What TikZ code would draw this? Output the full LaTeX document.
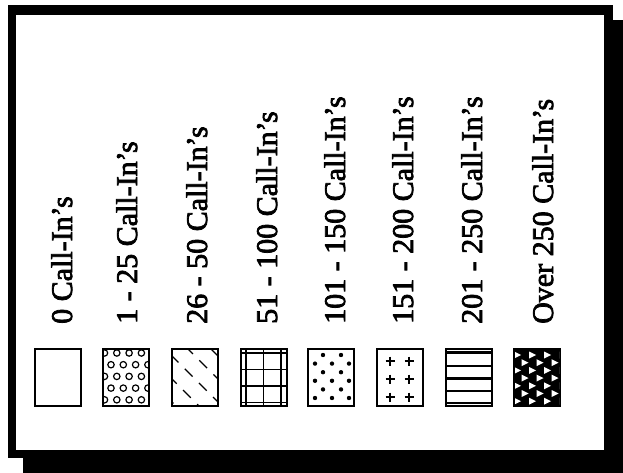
\documentclass[tikz,border=0pt]{standalone}
\usepackage{fontspec}
\setmainfont{Liberation Serif}
\newfontfamily\heavyserif{Liberation Serif}[Ligatures=TeX, FakeBold=2.5]
\usetikzlibrary{positioning}

\begin{document}
\begin{tikzpicture}[
    x=1pt, y=-1pt,
    swatch/.style={draw, line width=1.7pt, minimum width=46pt, minimum height=57pt,
                   inner sep=0pt, outer sep=0pt},
    lbl/.style={rotate=90, anchor=base west, inner sep=0pt,
                font=\heavyserif\fontsize{30}{36}\selectfont},
    pat/.style={line width=1.2pt},
  ]
    \useasboundingbox (0,0) rectangle (623,473);
    % frame with its shadow
    \fill (23,20) rectangle (623,473);
    \fill (8,5) rectangle (613,458);
    \fill[white] (16,15) rectangle (604,450);
    % swatches and labels
    \foreach \k/\xs/\xb/\txt in {1/35/72/0 Call-In's, 2/103/137/1 - 25 Call-In's,
        3/172/207/26 - 50 Call-In's, 4/241/277/51 - 100 Call-In's,
        5/308/345/101 - 150 Call-In's, 6/377/413/151 - 200 Call-In's,
        7/446/482/201 - 250 Call-In's, 8/514/553/Over 250 Call-In's}{
      \node[swatch] (s\k) at (\xs+23, 377.5) {};
      \node[lbl] (l\k) at (\xb, 324) {\txt};}
    \fill (s8.south west) rectangle (s8.north east);
    % 1 - 25: open circles
    \begin{scope}[shift={(s2.north west)}]
      \clip (0,0) rectangle (46,57);
      \foreach \yy in {4,27.4,50.8}\foreach \xx in {1.5,13.8,26.1,38.4}
        \draw[pat] (\xx,\yy) circle[radius=3.2];
      \foreach \yy in {15.7,39.1}\foreach \xx in {8,20.3,32.6,44.9}
        \draw[pat] (\xx,\yy) circle[radius=3.2];
    \end{scope}
    % 26 - 50: broken diagonals
    \begin{scope}[shift={(s3.north west)}]
      \clip (0,0) rectangle (46,57);
      \foreach \c/\ph in {39/0, 16/4, -7/12, -30/2, -53/14}
        \draw[pat, dash pattern=on 11pt off 9pt, dash phase=\ph pt] (\c,0) -- ++(60,60);
    \end{scope}
    % 51 - 100: grid
    \begin{scope}[shift={(s4.north west)}]
      \foreach \u in {5,22.5,40} \draw[pat] (\u,0) -- (\u,57);
      \foreach \v in {4,20.5,37,53.5} \draw[pat] (0,\v) -- (46,\v);
    \end{scope}
    % 101 - 150: dots
    \begin{scope}[shift={(s5.north west)}]
      \foreach \yy in {6,23.2,40.4}\foreach \xx in {15,33}
        \fill (\xx,\yy) circle[radius=2.2];
      \foreach \yy in {14.6,31.8,49}\foreach \xx in {7,24,41}
        \fill (\xx,\yy) circle[radius=2.2];
    \end{scope}
    % 151 - 200: crosses
    \begin{scope}[shift={(s6.north west)}]
      \foreach \xx in {13,32}\foreach \yy in {12,30,48}
        \draw[pat, line width=1.5pt] (\xx-4.5,\yy) -- (\xx+4.5,\yy) (\xx,\yy-4.5) -- (\xx,\yy+4.5);
    \end{scope}
    % 201 - 250: stripes
    \begin{scope}[shift={(s7.north west)}]
      \foreach \v in {3.5,17,29.5,42,54} \draw[line width=2.4pt] (0,\v) -- (46,\v);
    \end{scope}
    % over 250: white triangles on black
    \begin{scope}[shift={(s8.north west)}]
      \clip (1,1) rectangle (45,56);
      \foreach \yy in {6,21.4,36.8,52.2}\foreach \xx in {3,18,33,48}
        \fill[white] (\xx-3,\yy-3.5) -- (\xx-3,\yy+3.5) -- (\xx+4,\yy) -- cycle;
      \foreach \yy in {13.7,29.1,44.5}\foreach \xx in {10.5,25.5,40.5}
        \fill[white] (\xx-3,\yy-3.5) -- (\xx-3,\yy+3.5) -- (\xx+4,\yy) -- cycle;
    \end{scope}
\end{tikzpicture}
\end{document}
